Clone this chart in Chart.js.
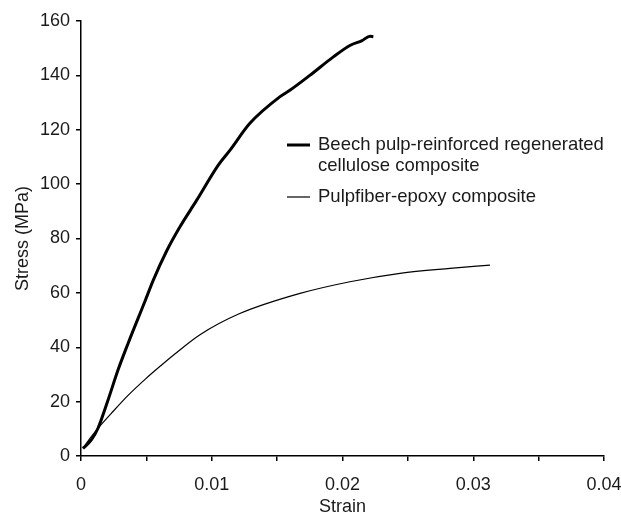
<!DOCTYPE html>
<html>
<head>
<meta charset="utf-8">
<script src="https://cdn.jsdelivr.net/npm/chart.js@4/dist/chart.umd.min.js"></script>
<style>
  html, body { margin: 0; padding: 0; background: #fff; }
  #wrap { width: 621px; height: 518px; }
</style>
</head>
<body>
<div id="wrap"><canvas id="myChart" width="621" height="518"></canvas></div>
<script>
// Beech pulp-reinforced regenerated cellulose composite
const beechStrain = [0.00015, 0.00079, 0.0013, 0.00207, 0.00283, 0.0036, 0.0049, 0.00553, 0.00655, 0.00757, 0.00885, 0.0105, 0.0114, 0.0129, 0.0152, 0.0160, 0.0175, 0.0193, 0.0206, 0.0215, 0.0221, 0.02236];
const beechStress = [2.8, 5.9, 10.2, 20.6, 31.6, 41.4, 57.0, 64.7, 75.4, 84.3, 94.1, 107.0, 112.5, 122.3, 132.1, 134.6, 140.0, 146.8, 151.1, 152.8, 154.4, 154.2];

// Pulpfiber-epoxy composite
const epoxyStrain = [0.00015, 0.0007, 0.0013, 0.00232, 0.0036, 0.0049, 0.0061, 0.0072, 0.0091, 0.0121, 0.01675, 0.02057, 0.0244, 0.02822, 0.03128];
const epoxyStress = [2.8, 6.6, 10.2, 15.7, 22.3, 28.2, 33.2, 37.6, 44.6, 52.3, 59.8, 64.1, 67.2, 69.0, 70.2];

const seriesLabels = [['Beech pulp-reinforced regenerated', 'cellulose composite'], ['Pulpfiber-epoxy composite']];
const xTicks = [0, 0.01, 0.02, 0.03, 0.04];
const yTicks = [0, 20, 40, 60, 80, 100, 120, 140, 160];

const toPoints = (xs, ys) => xs.map((x, i) => ({ x: x, y: ys[i] }));
const family = "'Liberation Sans', Arial, sans-serif";
const font = { family: family, size: 18 };

// legend drawn inside the plot area, beside the curves
const insideLegend = {
    id: 'insideLegend',
    afterDraw(chart) {
        const ctx = chart.ctx;
        const area = chart.chartArea;
        const x0 = area.left + 206;
        let y = area.top + 124;
        ctx.save();
        ctx.font = '18.5px ' + family;
        ctx.textBaseline = 'middle';
        ctx.fillStyle = '#1a1a1a';
        chart.data.datasets.forEach(ds => {
            ctx.strokeStyle = ds.borderColor;
            ctx.lineWidth = ds.borderWidth;
            ctx.beginPath();
            ctx.moveTo(x0, y);
            ctx.lineTo(x0 + 23, y);
            ctx.stroke();
            ds.label.forEach((line, i) => {
                ctx.fillText(line, x0 + 31, y + i * 21);
            });
            y += ds.label.length * 21 + 10;
        });
        ctx.restore();
    }
};

new Chart(document.getElementById('myChart'), {
    type: 'line',
    data: {
        datasets: [{
            label: seriesLabels[0],
            data: toPoints(beechStrain, beechStress),
            borderColor: '#000',
            borderWidth: 3,
            pointRadius: 0,
            cubicInterpolationMode: 'monotone',
        }, {
            label: seriesLabels[1],
            data: toPoints(epoxyStrain, epoxyStress),
            borderColor: '#000',
            borderWidth: 1.2,
            pointRadius: 0,
            cubicInterpolationMode: 'monotone',
        }]
    },
    options: {
        responsive: false,
        animation: false,
        layout: { padding: { top: 21, right: 17, left: 0, bottom: 0 } },
        plugins: {
            legend: { display: false },
            tooltip: { enabled: false },
        },
        scales: {
            x: {
                type: 'linear',
                min: 0,
                max: 0.04,
                ticks: {
                    stepSize: 0.005,
                    color: '#1a1a1a',
                    font: font,
                    padding: 13,
                    maxRotation: 0,
                    autoSkip: false,
                    callback: v => xTicks.some(t => Math.abs(t - v) < 1e-9) ? String(+v.toFixed(2)) : '',
                },
                grid: { drawOnChartArea: false, drawTicks: true, tickLength: 5, color: '#000', lineWidth: 1.5 },
                border: { color: '#000', width: 1.5 },
                title: { display: true, text: 'Strain', color: '#1a1a1a', font: font, padding: { top: 0, bottom: 0 } },
                afterFit: s => { s.height = 62; s.paddingLeft = 0; s.paddingRight = 0; },
            },
            y: {
                min: 0,
                max: 160,
                afterBuildTicks: s => { s.ticks = yTicks.map(v => ({ value: v })); },
                ticks: { color: '#1a1a1a', font: font, padding: 6 },
                grid: { drawOnChartArea: false, drawTicks: true, tickLength: 5, color: '#000', lineWidth: 1.5 },
                border: { color: '#000', width: 1.5 },
                title: { display: true, text: 'Stress (MPa)', color: '#1a1a1a', font: font, padding: { top: 12, bottom: 0 } },
                afterFit: s => { s.width = 81; s.paddingTop = 0; s.paddingBottom = 0; },
            }
        }
    },
    plugins: [insideLegend],
});
</script>
</body>
</html>
